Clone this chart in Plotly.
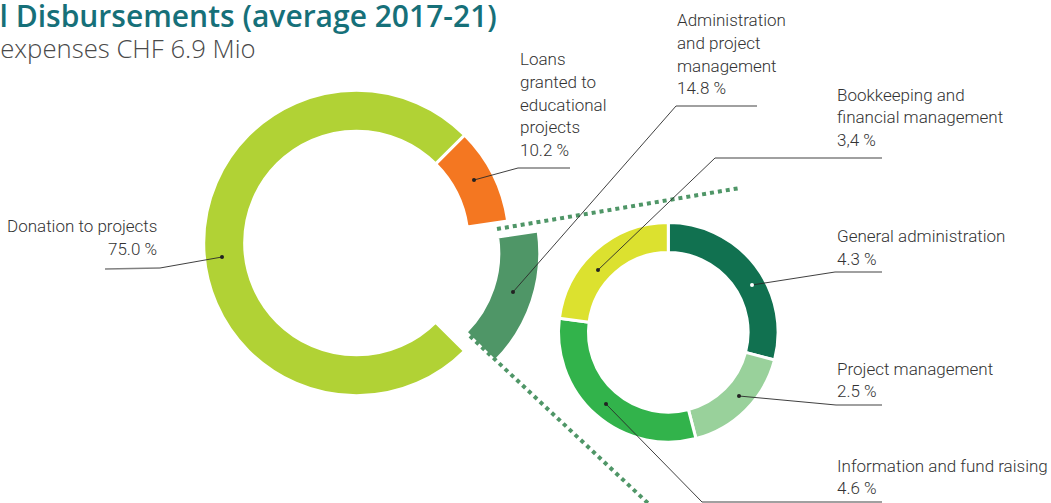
import plotly.graph_objects as go

W, H = 1051, 503

# ---------------- data ----------------
main_labels = ["Loans granted to educational projects",
               "Administration and project management",
               "Donation to projects"]
main_values = [10.2, 14.8, 75.0]
main_colors = ["#F47721", "#4F9667", "#B1D235"]
main_pull = [0, 0.21, 0]

sub_labels = ["General administration", "Project management",
              "Information and fund raising", "Bookkeeping and financial management"]
sub_values = [4.3, 2.5, 4.6, 3.4]
sub_colors = ["#117150", "#99D19B", "#32B34B", "#DCE12F"]

label_lines = {
    "don": ["Donation to projects", "75.0 %"],
    "loan": ["Loans", "granted to", "educational", "projects", "10.2 %"],
    "adm": ["Administration", "and project", "management", "14.8 %"],
    "book": ["Bookkeeping and", "financial management", "3,4 %"],
    "gen": ["General administration", "4.3 %"],
    "proj": ["Project management", "2.5 %"],
    "info": ["Information and fund raising", "4.6 %"],
}

title_text = "Total Disbursements (average 2017-21)"
subtitle_text = "Total expenses CHF 6.9 Mio"

# ---------------- helpers (pixel -> paper) ----------------
def fx(x):
    return x / W


def fy(y):
    return 1 - y / H


def domain_from(cx, cy, r, pull=0.0):
    half = r * (1 + pull)
    return dict(x=[fx(cx - half), fx(cx + half)], y=[fy(cy + half), fy(cy - half)])


TEXT = "#333333"
LABEL_FONT = "Roboto, sans-serif"
LINE_GAP = 22.8

fig = go.Figure()

fig.add_trace(go.Pie(
    labels=main_labels, values=main_values, sort=False,
    direction="clockwise", rotation=45, hole=0.732, pull=main_pull,
    marker=dict(colors=main_colors, line=dict(color="white", width=3)),
    textinfo="none", hoverinfo="label+percent", showlegend=False,
    domain=domain_from(356.5, 243, 152.8, max(main_pull)),
))

fig.add_trace(go.Pie(
    labels=sub_labels, values=sub_values, sort=False,
    direction="clockwise", rotation=0, hole=0.727,
    marker=dict(colors=sub_colors, line=dict(color="white", width=3)),
    textinfo="none", hoverinfo="label+value", showlegend=False,
    domain=domain_from(668.3, 332.3, 109.8),
))

shapes = []
# dotted connectors between exploded slice and sub donut
for (x0, y0, x1, y1) in [(497, 229, 740, 188), (470, 336, 652, 507)]:
    shapes.append(dict(type="line", xref="paper", yref="paper",
                       x0=fx(x0), y0=fy(y0), x1=fx(x1), y1=fy(y1),
                       line=dict(color="#4F9667", width=4, dash="4px,4px")))

# leader lines: (horizontal end, elbow, dot, dot colour)
leaders = [
    ((105, 269), (160, 268), (222, 257), "#222222"),
    ((570, 168), (518, 168), (474, 180), "#222222"),
    ((757, 106), (676, 106), (513, 292), "#222222"),
    ((882, 158), (715, 158), (598, 270), "#222222"),
    ((882, 272), (835, 272), (752, 285), "#ffffff"),
    ((882, 405), (836, 405), (739, 396), "#222222"),
    ((882, 502), (702, 502), (606, 404), "#222222"),
]
for (a, b, c, dc) in leaders:
    shapes.append(dict(type="line", xref="paper", yref="paper",
                       x0=fx(a[0]), y0=fy(a[1]), x1=fx(b[0]), y1=fy(b[1]),
                       line=dict(color="#808080", width=1.3)))
    shapes.append(dict(type="line", xref="paper", yref="paper",
                       x0=fx(b[0]), y0=fy(b[1]), x1=fx(c[0]), y1=fy(c[1]),
                       line=dict(color="#2a2a2a", width=0.9)))
    shapes.append(dict(type="circle", xref="paper", yref="paper",
                       x0=fx(c[0] - 2), y0=fy(c[1] + 2), x1=fx(c[0] + 2), y1=fy(c[1] - 2),
                       fillcolor=dc, line=dict(width=0)))

annotations = []
# label placement: key -> (x, first line centre y, anchor)
placement = {
    "don": (158, 226, "right"),
    "loan": (519, 59, "left"),
    "adm": (676, 20, "left"),
    "book": (836, 94.5, "left"),
    "gen": (836, 236, "left"),
    "proj": (836, 368.5, "left"),
    "info": (836, 465.5, "left"),
}
for key, (x, y, anc) in placement.items():
    for i, line in enumerate(label_lines[key]):
        annotations.append(dict(
            text=line, xref="paper", yref="paper",
            x=fx(x), y=fy(y + i * LINE_GAP), xanchor=anc, yanchor="middle", align=anc,
            showarrow=False, borderpad=0,
            font=dict(family=LABEL_FONT, size=17, color=TEXT, weight=300)))

annotations.append(dict(
    text=title_text, xref="paper", yref="paper", x=fx(498), y=fy(16),
    xanchor="right", yanchor="middle", showarrow=False, borderpad=0,
    font=dict(family="Open Sans, sans-serif", size=30, color="#167079", weight=600)))
annotations.append(dict(
    text=subtitle_text, xref="paper", yref="paper", x=fx(257), y=fy(48),
    xanchor="right", yanchor="middle", showarrow=False, borderpad=0,
    font=dict(family="Open Sans, sans-serif", size=25.7, color="#4a4a4a", weight=300)))

fig.update_layout(
    width=W, height=H,
    margin=dict(l=0, r=0, t=0, b=0, pad=0),
    paper_bgcolor="white", plot_bgcolor="white",
    shapes=shapes, annotations=annotations,
)

fig.write_html("out.html", config={"displayModeBar": False},
               post_script="document.body.style.margin='0px';")
